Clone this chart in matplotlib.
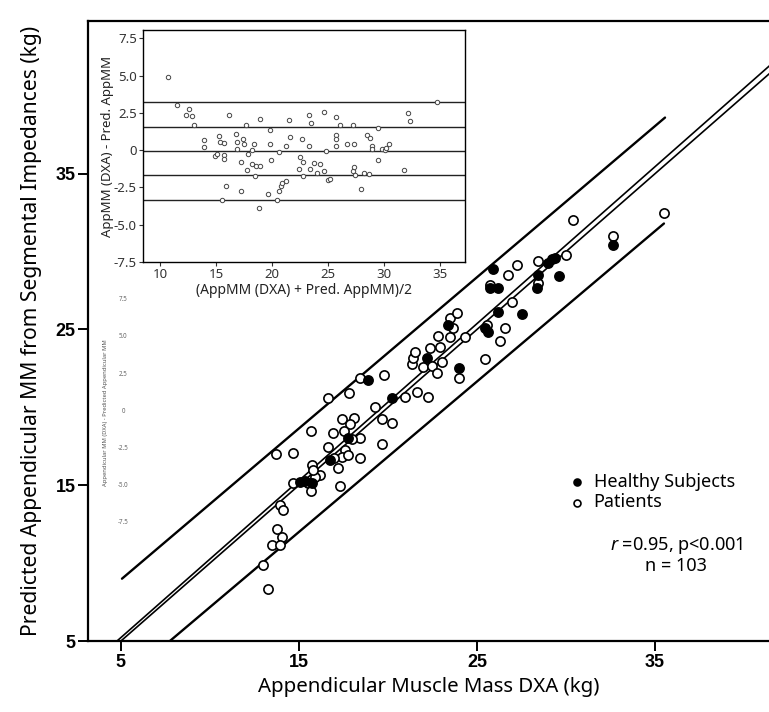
import matplotlib
matplotlib.use("Agg")
import matplotlib.pyplot as plt
import numpy as np

plt.rcParams['font.family'] = ['Noto Sans', 'DejaVu Sans']
plt.rcParams['mathtext.fontset'] = 'custom'
plt.rcParams['mathtext.it'] = 'Noto Sans:italic'
plt.rcParams['mathtext.rm'] = 'Noto Sans'

# main scatter: DXA (x) vs predicted (y)
patients_dxa = [13.69, 14.65, 15.71, 15.52, 15.66, 14.66, 13.93, 14.08, 13.75, 14.03,
                13.47, 13.93, 12.96, 13.28, 18.43, 19.79, 17.83, 16.65, 15.66, 17.40,
                18.09, 17.87, 16.93, 17.54, 18.43, 17.96, 16.65, 17.58, 17.40, 17.77,
                16.97, 18.43, 17.21, 16.18, 17.30, 19.27, 19.65, 20.21, 19.65, 21.61,
                21.33, 20.96, 22.26, 21.42, 21.98, 22.46, 23.02, 22.74, 22.36, 21.52,
                22.83, 22.92, 23.48, 23.63, 23.48, 23.89, 24.33, 24.01, 25.45, 25.55,
                26.57, 26.29, 26.76, 27.23, 25.73, 26.95, 28.44, 30.00, 28.44, 30.41,
                32.66, 35.51, 15.90, 15.80]
patients_pred = [17.00, 17.05, 16.30, 15.12, 14.65, 15.16, 13.73, 13.41, 12.17, 11.69,
                 11.16, 11.16, 9.88, 8.32, 21.86, 22.07, 20.94, 20.62, 18.48, 19.23,
                 19.29, 18.93, 18.37, 18.50, 18.01, 17.95, 17.47, 17.26, 16.83, 16.94,
                 16.73, 16.77, 16.08, 15.65, 14.95, 20.04, 19.23, 18.97, 17.63, 20.97,
                 22.78, 20.68, 20.64, 23.15, 22.61, 22.65, 22.93, 22.22, 23.79, 23.57,
                 24.58, 23.89, 24.53, 25.07, 25.71, 26.07, 24.49, 21.86, 23.08, 25.28,
                 25.07, 24.27, 28.49, 29.13, 27.85, 26.78, 29.41, 29.78, 27.96, 32.02,
                 30.99, 32.49, 15.54, 15.97]

healthy_dxa = [18.89, 17.77, 16.74, 15.06, 15.34, 15.71, 20.21, 22.17, 24.01, 23.39,
               25.64, 25.45, 26.20, 27.51, 25.73, 26.20, 25.92, 28.44, 28.35, 29.61,
               29.00, 29.19, 29.38, 32.66]
healthy_pred = [21.75, 18.01, 16.62, 15.22, 15.27, 15.12, 20.58, 23.19, 22.50, 25.28,
                24.85, 25.07, 26.14, 25.99, 27.64, 27.64, 28.86, 28.49, 27.64, 28.43,
                29.24, 29.50, 29.56, 30.42]

# fitted lines: (intercept, slope, x start, x end)
fit_line = (0.184, 1.0076)
upper_band = (4.09, 0.9705, 5.06, 35.56)
lower_band = (-2.485, 0.9658, 7.75, 35.5)

# Bland-Altman inset
ba_mean = [10.74, 11.5, 12.6, 12.3, 12.9, 13.0, 13.9, 13.9, 14.9, 15.3,
           15.4, 15.7, 15.1, 15.7, 15.7, 15.9, 15.5, 16.2, 16.8, 16.9,
           16.9, 17.2, 17.2, 17.4, 17.5, 17.7, 17.8, 17.9, 18.2, 18.2,
           18.4, 18.5, 18.6, 18.9, 18.9, 18.8, 19.8, 19.8, 19.9, 19.6,
           20.4, 20.6, 20.6, 20.8, 20.9, 21.2, 21.2, 21.5, 21.6, 22.4,
           22.5, 22.7, 22.8, 22.8, 23.3, 23.3, 23.4, 23.5, 23.7, 24.0,
           24.3, 24.6, 24.6, 24.8, 25.0, 25.2, 25.7, 25.7, 25.7, 25.7,
           26.1, 26.7, 27.2, 27.3, 27.2, 27.3, 27.4, 27.9, 28.2, 28.6,
           28.5, 28.7, 29.4, 29.4, 28.9, 28.9, 29.8, 30.1, 30.2, 30.4,
           31.8, 32.1, 32.3, 34.7]
ba_diff = [4.89, 3.04, 2.77, 2.37, 2.32, 1.72, 0.65, 0.20, -0.42, 0.92,
           0.58, 0.47, -0.27, -0.31, -0.60, -2.37, -3.35, 2.39, 1.09, 0.56,
           0.07, -0.76, -2.72, 0.76, 0.40, 1.70, -1.32, -0.27, 0.02, -0.94,
           0.42, -1.72, -1.05, -1.09, 2.10, -3.88, 1.36, 0.40, -0.65, -2.95,
           -3.33, -0.09, -2.72, -2.43, -2.21, -2.10, 0.29, 2.03, 0.87, -1.23,
           -0.47, 0.74, -1.76, -0.80, 2.34, 0.25, -1.25, 1.81, -0.87, -1.54,
           -0.92, 2.59, -1.38, -0.04, -1.99, -1.92, 2.25, 1.03, 0.74, 0.25,
           1.70, 0.42, 1.70, 0.40, -1.43, -1.16, -1.65, -2.61, -1.50, -1.58,
           1.03, 0.80, 1.47, -0.69, 0.29, 0.07, 0.07, -0.02, 0.13, 0.42,
           -1.32, 2.52, 1.96, 3.26]
ba_levels = [3.21, 1.58, -0.05, -1.68, -3.31]

fig = plt.figure(figsize=(7.69, 7.12), dpi=100)
ax = fig.add_axes([0.1144, 0.0997, 0.8856, 0.8708])

x_fit = np.array([3.0, 42.0])
ax.plot(x_fit, fit_line[0] + fit_line[1] * x_fit, color='black', lw=1.2)
ax.plot(x_fit, x_fit, color='black', lw=1.2)
for b0, b1, xs, xe in (upper_band, lower_band):
    xx = np.array([xs, xe])
    ax.plot(xx, b0 + b1 * xx, color='black', lw=1.7, solid_capstyle='round')

ax.scatter(patients_dxa, patients_pred, s=44, facecolors='white', edgecolors='black',
           linewidths=1.2, zorder=3, label='Patients')
ax.scatter(healthy_dxa, healthy_pred, s=44, facecolors='black', edgecolors='black',
           linewidths=1.2, zorder=4, label='Healthy Subjects')

ax.set_xlim(3.15, 41.4)
ax.set_ylim(5, 44.8)
ax.set_xticks([5, 15, 25, 35])
ax.set_yticks([5, 15, 25, 35])
ax.spines['right'].set_visible(False)
for s in ('left', 'bottom', 'top'):
    ax.spines[s].set_linewidth(1.6)
ax.tick_params(direction='out', length=7, width=1.4, labelsize=13, pad=2)
for lab in ax.get_xticklabels() + ax.get_yticklabels():
    lab.set_fontweight('bold')
    lab.set_family(['Liberation Sans Narrow', 'Liberation Sans'])
ax.set_xlabel('Appendicular Muscle Mass DXA (kg)', fontsize=14.7, labelpad=5)
ax.set_ylabel('Predicted Appendicular MM from Segmental Impedances (kg)', fontsize=15.2,
              labelpad=10)

handles, labels = ax.get_legend_handles_labels()
ax.legend(handles[::-1], labels[::-1], loc='upper left', bbox_to_anchor=(0.70, 0.283),
          frameon=False, fontsize=13, handlelength=0.6, handletextpad=0.6,
          borderaxespad=0, labelspacing=0.15, markerscale=0.75)
ax.text(0.864, 0.139, '$\\it{r}$ =0.95, p<0.001\nn = 103', transform=ax.transAxes,
        fontsize=13, ha='center', va='center', multialignment='center', linespacing=1.05)

# inset
ins = fig.add_axes([0.186, 0.632, 0.4187, 0.3259])
for lv in ba_levels:
    ins.axhline(lv, color='#222222', lw=1.0)
ins.scatter(ba_mean, ba_diff, s=10, facecolors='white', edgecolors='#444444',
            linewidths=0.7, zorder=3)
ins.set_xlim(8.5, 37.2)
ins.set_ylim(-7.5, 8.06)
ins.set_xticks([10, 15, 20, 25, 30, 35])
ins.set_yticks([7.5, 5.0, 2.5, 0, -2.5, -5.0, -7.5])
ins.set_yticklabels(['7.5', '5.0', '2.5', '0', '-2.5', '-5.0', '-7.5'])
ins.tick_params(direction='out', length=3, width=0.8, labelsize=9.5, pad=1.5,
                colors='#333333')
for s in ins.spines.values():
    s.set_linewidth(1.0)
ins.set_xlabel('(AppMM (DXA) + Pred. AppMM)/2', fontsize=10, labelpad=1, color='#222222')
ins.set_ylabel('AppMM (DXA) - Pred. AppMM', fontsize=9.5, labelpad=0, color='#222222')

# faint residual axis from original figure
ghost_ticks = ['7.5', '5.0', '2.5', '0', '-2.5', '-5.0', '-7.5']
ghost_y = np.linspace(0.579, 0.266, len(ghost_ticks))
for t, yy in zip(ghost_ticks, ghost_y):
    fig.text(0.16, yy, t, fontsize=4.5, color='#666666', ha='center', va='center')
fig.text(0.137, 0.42, 'Appendicular MM (DXA) - Predicted Appendicular MM', fontsize=4.2,
         color='#555555', rotation=90, ha='center', va='center')

fig.savefig('out.png', dpi=100)
